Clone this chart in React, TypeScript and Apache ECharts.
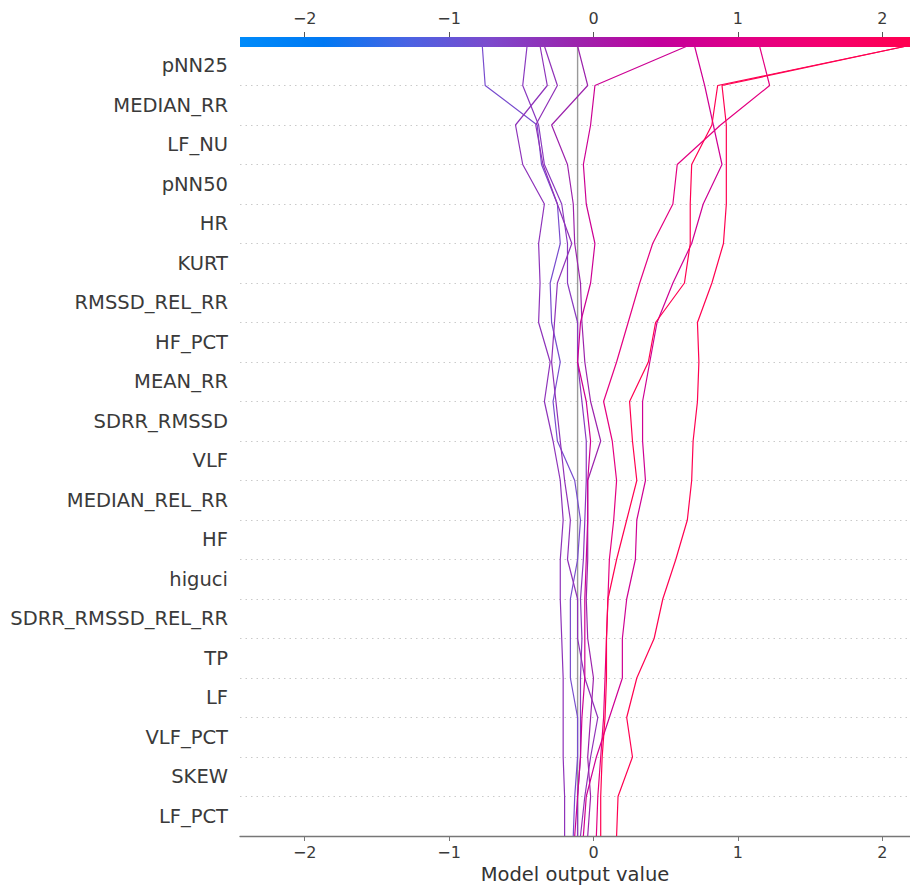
import React, { useEffect, useRef } from 'react';
import * as echarts from 'echarts';

// Features listed bottom -> top
const features = [
  'LF_PCT', 'SKEW', 'VLF_PCT', 'LF', 'TP', 'SDRR_RMSSD_REL_RR', 'higuci', 'HF',
  'MEDIAN_REL_RR', 'VLF', 'SDRR_RMSSD', 'MEAN_RR', 'HF_PCT', 'RMSSD_REL_RR',
  'KURT', 'HR', 'pNN50', 'LF_NU', 'MEDIAN_RR', 'pNN25',
];

const baseValue = -0.11;
const xTicks = [-2, -1, 0, 1, 2];
const xMin = -2.448;
const xMax = 2.192;

// Cumulative model output at each feature boundary, bottom (index 0) to top (index 20)
const pathA = [-0.14, -0.13, -0.11, -0.11, -0.16, -0.16, -0.16, -0.11, -0.09, -0.13, -0.25, -0.28, -0.23, -0.29, -0.30, -0.23, -0.25, -0.36, -0.39, -0.75, -0.77];
const pathB = [-0.11, -0.11, -0.09, -0.09, -0.09, -0.08, -0.09, -0.07, -0.06, -0.05, -0.05, -0.08, -0.11, -0.11, -0.18, -0.18, -0.22, -0.34, -0.38, -0.49, -0.46];
const pathC = [-0.20, -0.20, -0.21, -0.21, -0.21, -0.22, -0.23, -0.23, -0.21, -0.23, -0.28, -0.34, -0.30, -0.38, -0.37, -0.38, -0.34, -0.49, -0.54, -0.32, -0.37];
const pathD = [-0.09, -0.06, -0.02, 0.03, -0.06, -0.11, -0.11, -0.18, -0.16, -0.20, -0.23, -0.26, -0.29, -0.27, -0.25, -0.15, -0.25, -0.35, -0.40, -0.25, -0.34];
const pathE = [-0.04, -0.02, -0.04, -0.02, 0.00, -0.04, -0.05, -0.04, -0.04, -0.04, 0.05, -0.02, -0.06, -0.08, -0.09, -0.13, -0.14, -0.18, -0.29, -0.04, -0.11];
const pathF = [-0.13, -0.11, -0.09, -0.08, -0.06, -0.06, -0.06, -0.05, -0.04, -0.04, -0.02, -0.05, -0.11, -0.09, -0.02, 0.01, -0.05, -0.07, -0.02, 0.01, 0.65];
const pathG = [-0.07, -0.05, 0.02, 0.11, 0.20, 0.20, 0.23, 0.29, 0.30, 0.36, 0.34, 0.34, 0.39, 0.44, 0.55, 0.68, 0.76, 0.89, 0.83, 0.77, 0.70];
const pathH = [0.02, 0.03, 0.05, 0.07, 0.08, 0.09, 0.10, 0.11, 0.14, 0.16, 0.13, 0.07, 0.16, 0.24, 0.32, 0.41, 0.55, 0.58, 0.88, 1.22, 1.15];
const pathI = [0.05, 0.05, 0.06, 0.08, 0.09, 0.09, 0.10, 0.16, 0.23, 0.30, 0.27, 0.25, 0.38, 0.43, 0.63, 0.67, 0.67, 0.68, 0.82, 0.86, 2.17];
const pathJ = [0.16, 0.17, 0.27, 0.23, 0.30, 0.42, 0.48, 0.57, 0.65, 0.68, 0.69, 0.72, 0.73, 0.72, 0.82, 0.90, 0.92, 0.92, 0.92, 0.89, 2.17];

const paths = [pathA, pathB, pathC, pathD, pathE, pathF, pathG, pathH, pathI, pathJ];

// SHAP red_blue colour map stops
const cmapStops: [number, number[]][] = [
  [0, [0, 139, 250]],
  [0.125, [0, 121, 243]],
  [0.25, [74, 99, 227]],
  [0.375, [125, 73, 204]],
  [0.5, [155, 36, 173]],
  [0.625, [194, 0, 156]],
  [0.75, [224, 0, 134]],
  [0.875, [245, 0, 109]],
  [1, [255, 0, 80]],
];

function cmap(t: number): string {
  t = Math.max(0, Math.min(1, t));
  for (let k = 0; k < cmapStops.length - 1; k++) {
    const [t0, c0] = cmapStops[k];
    const [t1, c1] = cmapStops[k + 1];
    if (t <= t1) {
      const f = (t - t0) / (t1 - t0);
      const c = c0.map((v, j) => Math.round(v + (c1[j] - v) * f));
      return `rgb(${c[0]},${c[1]},${c[2]})`;
    }
  }
  const c = cmapStops[cmapStops.length - 1][1];
  return `rgb(${c[0]},${c[1]},${c[2]})`;
}

const FONT = 'DejaVu Sans';
const fmt = (v: number) => (v < 0 ? '\u2212' + Math.abs(v) : String(v));

export default function App() {
  const ref = useRef<HTMLDivElement>(null);
  useEffect(() => {
    if (!ref.current) return;
    const chart = echarts.init(ref.current, undefined, { renderer: 'svg' });
    const sorted = [...paths].sort((a, b) => a[a.length - 1] - b[b.length - 1]);
    const lineSeries = sorted.map((p, idx) => ({
      type: 'line',
      name: 'obs' + idx,
      xAxisIndex: 0,
      yAxisIndex: 0,
      data: p.map((v, i) => [v, i]),
      symbol: 'none',
      silent: true,
      z: 3 + idx,
      lineStyle: { width: 1.2, color: cmap((p[p.length - 1] - xMin) / (xMax - xMin)) },
    }));
    chart.setOption({
      animation: false,
      backgroundColor: '#ffffff',
      grid: { left: 240, top: 46, width: 670, height: 790 },
      xAxis: [
        {
          type: 'value', position: 'bottom', min: xMin, max: xMax,
          axisLine: { show: true, lineStyle: { color: '#777', width: 1.3 } },
          axisTick: { show: true, customValues: xTicks, length: 5, lineStyle: { color: '#777' } },
          axisLabel: { customValues: xTicks, formatter: fmt, fontSize: 16, color: '#3a3a3a', margin: 8, fontFamily: FONT },
          splitLine: { show: false },
          name: 'Model output value', nameLocation: 'middle', nameGap: 28,
          nameTextStyle: { fontSize: 19.5, color: '#333', fontFamily: FONT },
        },
        {
          type: 'value', position: 'top', min: xMin, max: xMax, offset: 9,
          axisLine: { show: false },
          axisTick: { show: true, customValues: xTicks, length: 5, lineStyle: { color: '#555' } },
          axisLabel: { customValues: xTicks, formatter: fmt, fontSize: 16, color: '#3a3a3a', margin: 11, fontFamily: FONT },
          splitLine: { show: false },
        },
      ],
      yAxis: [
        {
          type: 'value', min: 0, max: 20, interval: 1,
          axisLine: { show: false }, axisTick: { show: false }, axisLabel: { show: false },
          splitLine: { show: true, lineStyle: { color: '#bdbdbd', width: 0.8, type: [1.5, 4] } },
        },
        {
          type: 'category', position: 'left', data: features,
          axisLine: { show: false }, axisTick: { show: false },
          axisLabel: { fontSize: 19.5, color: '#3a3a3a', margin: 12, fontFamily: FONT, padding: [4, 0, 0, 0] },
          splitLine: { show: false },
        },
      ],
      series: [
        {
          type: 'line', name: 'base', xAxisIndex: 0, yAxisIndex: 0,
          data: [[baseValue, 0], [baseValue, 20]], symbol: 'none', silent: true, z: 2,
          lineStyle: { width: 1.4, color: '#999999' },
        },
        ...lineSeries,
      ],
      graphic: [
        {
          type: 'rect', left: 240, top: 37, z: 100, silent: true,
          shape: { width: 670, height: 10 },
          style: {
            fill: {
              type: 'linear', x: 0, y: 0, x2: 1, y2: 0,
              colorStops: cmapStops.map(([o, c]) => ({ offset: o, color: `rgb(${c[0]},${c[1]},${c[2]})` })),
            },
          },
        },
      ],
    });
    return () => chart.dispose();
  }, []);
  return (
    <div
      ref={ref}
      style={{ position: 'absolute', left: 0, top: 0, width: 910, height: 893, background: '#fff' }}
    />
  );
}
